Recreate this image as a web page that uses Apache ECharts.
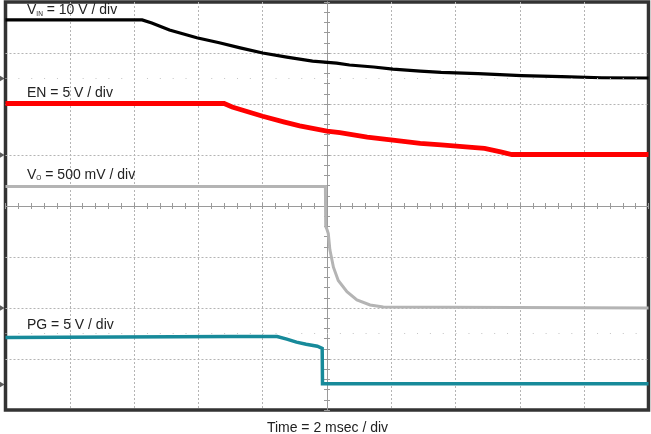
<!DOCTYPE html>
<html>
<head>
<meta charset="utf-8">
<script src="https://cdn.jsdelivr.net/npm/echarts@6/dist/echarts.min.js"></script>
<style>
  html, body { margin: 0; padding: 0; background: #fff; }
  #chart { width: 651px; height: 434px; }
</style>
</head>
<body>
<div id="chart"></div>
<script>
// ---- Time base ----
const msPerDiv = 2;              // Time = 2 msec / div
const timeMin = -10, timeMax = 10;

// ---- Channel settings (volts per division, ground-marker level in divisions from centre) ----
const channelNames   = ['VIN', 'EN', 'VO', 'PG'];
const voltsPerDiv    = [10, 5, 0.5, 5];
const groundLevelDiv = [2.5, 1, -2, -3.5];

// ---- Traces (time in ms, amplitude in volts) ----
const vinTimeMs = [-10, -5.75, -5.45, -4.9, -4.05, -3.35, -2.7, -2.0, -1.25, -0.45, 0.3, 0.7, 1.45, 2.05, 2.9, 3.55, 4.7, 6.05, 7.3, 8.55, 10];
const vinVolts  = [11.5, 11.5, 10.9, 9.5, 8.0, 7.0, 6.0, 5.0, 4.2, 3.4, 3.0, 2.65, 2.25, 1.85, 1.45, 1.2, 0.95, 0.55, 0.35, 0.15, 0.1];

const enTimeMs = [-10, -3.2, -2.95, -2.0, -1.35, -0.85, 0, 0.4, 1.25, 2.05, 2.9, 3.55, 4.7, 4.9, 5.4, 5.75, 10];
const enVolts  = [5.05, 5.05, 4.7, 3.8, 3.25, 2.85, 2.35, 2.2, 1.75, 1.45, 1.15, 1.0, 0.7, 0.65, 0.3, 0.05, 0.05];

const voTimeMs = [-10, -0.05, -0.04, 0.0, 0.04, 0.09, 0.2, 0.35, 0.62, 0.93, 1.34, 1.75, 10];
const voVolts  = [1.19, 1.19, 0.8, 0.77, 0.73, 0.57, 0.4, 0.27, 0.16, 0.08, 0.03, 0.01, 0.0];

const pgTimeMs = [-10, -3.0, -1.55, -1.25, -0.95, -0.65, -0.3, -0.15, -0.14, 10];
const pgVolts  = [4.6, 4.7, 4.7, 4.45, 4.15, 3.95, 3.75, 3.55, 0.08, 0.08];

// ---- Faint dotted reference rows (divisions from centre) ----
const dottedRowsDiv = [2.5, -2.5];

// ---- Labels ----
const channelLabels = [
  '{n|V}{s|IN}{n| = 10 V / div}',
  '{n|EN = 5 V / div}',
  '{n|V}{s|O}{n| = 500 mV / div}',
  '{n|PG = 5 V / div}'
];
const timeLabel = 'Time = 2 msec / div';

// ---- Styles ----
const traceColors = ['#000000', '#ff0000', '#b4b4b4', '#178a9a'];
const traceWidths = [3.2, 4.8, 3, 3.5];
const FONT = '"Liberation Sans", Arial, Helvetica, sans-serif';

const traceTimes = [vinTimeMs, enTimeMs, voTimeMs, pgTimeMs];
const traceVolts = [vinVolts, enVolts, voVolts, pgVolts];

function toDiv(ch) {
  return traceTimes[ch].map((t, i) => [t, groundLevelDiv[ch] + traceVolts[ch][i] / voltsPerDiv[ch]]);
}

const chart = echarts.init(document.getElementById('chart'), null, { renderer: 'canvas' });

const gridBox = { left: 5.5, top: 2, width: 643, height: 408 };
const minorStepPx = gridBox.width / 50;

function centreAxis(dim, inside) {
  const isX = dim === 'x';
  return {
    type: 'value',
    min: isX ? timeMin : -4,
    max: isX ? timeMax : 4,
    interval: isX ? msPerDiv / 5 : 0.2,
    position: isX ? 'bottom' : 'left',
    axisLine: { show: true, onZero: true, lineStyle: { color: '#9a9a9a', width: 1 } },
    axisTick: { show: true, inside: inside, length: 3, lineStyle: { color: '#9a9a9a', width: 1 } },
    axisLabel: { show: false },
    splitLine: { show: false },
    z: 1
  };
}

const gridAxis = (dim) => ({
  type: 'value',
  min: dim === 'x' ? timeMin : -4,
  max: dim === 'x' ? timeMax : 4,
  interval: dim === 'x' ? msPerDiv : 1,
  axisLine: { show: false },
  axisTick: { show: false },
  axisLabel: { show: false },
  splitLine: { show: true, showMinLine: false, showMaxLine: false, lineStyle: { color: '#b4b4b4', width: 1, type: [2, 2] } }
});

const series = channelNames.map((name, ch) => ({
  name: name,
  type: 'line',
  xAxisIndex: 0,
  yAxisIndex: 0,
  data: toDiv(ch),
  showSymbol: false,
  symbol: 'none',
  lineStyle: { color: traceColors[ch], width: traceWidths[ch], join: 'miter' },
  z: 3,
  animation: false
}));

// faint dotted rows drawn as mark lines
series[0].markLine = {
  silent: true,
  symbol: 'none',
  label: { show: false },
  animation: false,
  lineStyle: { color: '#c4c4c4', width: 1, type: [1, minorStepPx - 1] },
  data: dottedRowsDiv.map(d => ({ yAxis: d }))
};

series.push({
  name: 'ground markers',
  type: 'scatter',
  xAxisIndex: 0,
  yAxisIndex: 0,
  clip: false,
  data: groundLevelDiv.map(d => [timeMin, d]),
  symbol: 'triangle',
  symbolRotate: -90,
  symbolSize: [6, 5],
  symbolOffset: [-3.5, 0],
  itemStyle: { color: '#333' },
  z: 5,
  animation: false
});

const labelY = [10.5, 92.7, 175, 324.7];
const graphics = channelLabels.map((txt, i) => ({
  type: 'text',
  x: 27,
  y: labelY[i],
  z: 10,
  style: {
    text: txt,
    textAlign: 'left',
    textVerticalAlign: 'middle',
    rich: {
      n: { fontSize: 14, fontFamily: FONT, fill: '#222' },
      s: { fontSize: 6.5, fontFamily: FONT, fill: '#222', verticalAlign: 'bottom' }
    }
  }
}));
graphics.push({
  type: 'text',
  x: 327.5,
  y: 428,
  z: 10,
  style: {
    text: timeLabel,
    font: '14px ' + FONT,
    fill: '#222',
    textAlign: 'center',
    textVerticalAlign: 'middle'
  }
});

chart.setOption({
  animation: false,
  backgroundColor: '#ffffff',
  grid: Object.assign({ show: true, borderColor: '#333333', borderWidth: 3.5, backgroundColor: '#ffffff', containLabel: false }, gridBox),
  xAxis: [gridAxis('x'), centreAxis('x', true), centreAxis('x', false)],
  yAxis: [gridAxis('y'), centreAxis('y', true), centreAxis('y', false)],
  series: series,
  graphic: graphics
});
</script>
</body>
</html>
